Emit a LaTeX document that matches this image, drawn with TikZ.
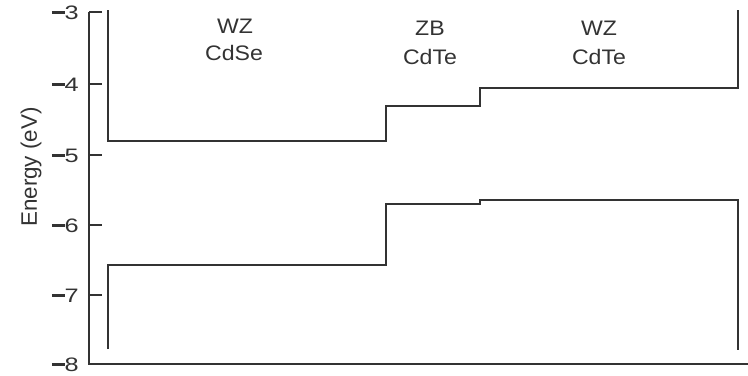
\documentclass[tikz,border=0pt]{standalone}
\usepackage{fontspec}
\setmainfont{Liberation Sans}
\definecolor{ink}{HTML}{333333}
\newcommand{\hstretch}[1]{\scalebox{1.1}[1]{#1}}
\newcommand{\tickstretch}[1]{\scalebox{1.3}[1]{#1}}
\newcommand{\negbar}{\rule[4.2pt]{9.5pt}{2pt}}
\begin{document}
\begin{tikzpicture}[x=0.75pt,y=-0.75pt,
  band/.style={draw=ink,line width=1.1pt,line join=miter},
  axisline/.style={draw=ink,line width=1.1pt},
  lbl/.style={text=ink,inner sep=0pt,font=\fontsize{15.75}{17}\selectfont},
  ticklbl/.style={text=ink,inner sep=0pt,anchor=east,font=\fontsize{14.6}{16}\selectfont},
  ylbl/.style={text=ink,inner sep=0pt,rotate=90,font=\fontsize{16.8}{18}\selectfont}]
\useasboundingbox (0,0) rectangle (748,375);
% axes
\coordinate (atop) at (89,12);
\coordinate (aorigin) at (89,364);
\coordinate (aright) at (748,364);
\draw[axisline] (atop) -- (aorigin) -- (aright);
\foreach \v/\yy in {3/12,4/84,5/155,6/225,7/295,8/364}{
  \coordinate (t\yy) at (89,\yy);
  \coordinate (te\yy) at (102,\yy);
  \draw[axisline] (t\yy) -- (te\yy);
  \node[ticklbl] (l\yy) at (79,\yy+1) {\negbar\tickstretch{\v}};
}
\node[ylbl] (ylab) at (31,167) {Energy (eV)};
% conduction band
\coordinate (c1) at (108,10);
\coordinate (c2) at (108,141);
\coordinate (c3) at (386,141);
\coordinate (c4) at (386,106);
\coordinate (c5) at (480,106);
\coordinate (c6) at (480,88);
\coordinate (c7) at (738,88);
\coordinate (c8) at (738,10);
\draw[band] (c1) -- (c2) -- (c3) -- (c4) -- (c5) -- (c6) -- (c7) -- (c8);
% valence band
\coordinate (v1) at (108,349);
\coordinate (v2) at (108,265);
\coordinate (v3) at (386,265);
\coordinate (v4) at (386,204);
\coordinate (v5) at (480,204);
\coordinate (v6) at (480,200);
\coordinate (v7) at (738,200);
\coordinate (v8) at (738,350);
\draw[band] (v1) -- (v2) -- (v3) -- (v4) -- (v5) -- (v6) -- (v7) -- (v8);
% labels
\node[lbl] (wz1) at (235,26) {\hstretch{WZ}};
\node[lbl] (cdse) at (234,53) {\hstretch{CdSe}};
\node[lbl] (zb) at (430,28) {\hstretch{ZB}};
\node[lbl] (cdte1) at (430,57) {\hstretch{CdTe}};
\node[lbl] (wz2) at (599,28) {\hstretch{WZ}};
\node[lbl] (cdte2) at (599,57) {\hstretch{CdTe}};
\end{tikzpicture}
\end{document}
